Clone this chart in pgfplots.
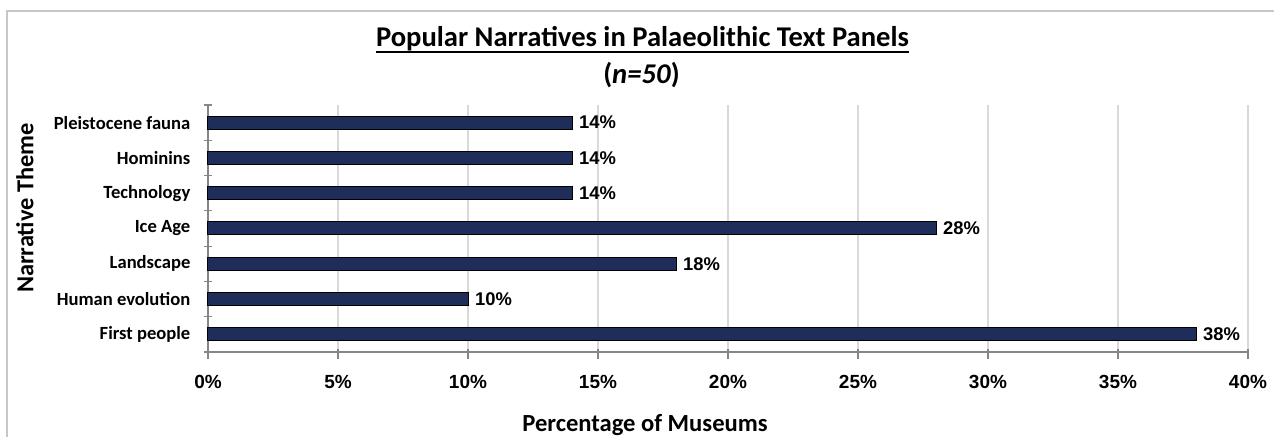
\documentclass[border=0pt]{standalone}
\usepackage{fontspec}
\usepackage{pgfplots}
\pgfplotsset{compat=1.18}
\setmainfont{Carlito}
\newfontfamily\arialfont{Liberation Sans}
\definecolor{barnavy}{RGB}{31,45,90}
\definecolor{axgray}{RGB}{134,134,134}
\definecolor{gridgray}{RGB}{217,217,217}
\definecolor{framegray}{RGB}{200,200,200}
\begin{document}
\begin{tikzpicture}
\useasboundingbox (0,0) rectangle (637pt,218.5pt);
\fill[white] (0,0) rectangle (637pt,218.5pt);
\draw[framegray, line width=0.8pt] (3.5pt,0) -- (3.5pt,213pt) -- (637pt,213pt);
\begin{axis}[
  at={(104pt,42.5pt)}, anchor=south west,
  scale only axis, width=520pt, height=123.5pt,
  xbar, bar width=6.5pt,
  xmin=0, xmax=40, ymin=-0.5, ymax=6.5,
  axis x line*=bottom, axis y line*=left,
  axis line style={axgray, line width=0.6pt},
  xtick={0,5,...,40},
  xticklabels={0\%,5\%,10\%,15\%,20\%,25\%,30\%,35\%,40\%},
  ytick={0,...,6},
  yticklabels={First people,Human evolution,Landscape,Ice Age,Technology,Hominins,Pleistocene fauna},
  minor ytick={-0.5,0.5,...,6.5},
  tick align=center,
  major tick length=5pt,
  minor tick length=4pt,
  x tick style={draw=axgray, line width=0.6pt, yshift=-1.25pt},
  y tick style={draw=axgray, line width=0.6pt},
  every major y tick/.style={opacity=0},
  xmajorgrids, major grid style={gridgray, line width=0.6pt, opacity=1},
  xticklabel style={font=\arialfont\bfseries\fontsize{9.5}{11}\selectfont, yshift=-5.8pt},
  yticklabel style={font=\bfseries\fontsize{9.3}{11}\selectfont, xshift=-2.8pt},
  nodes near coords={\pgfmathprintnumber[assume math mode=true]{\pgfplotspointmeta}\%},
  nodes near coords style={font=\arialfont\bfseries\fontsize{9.2}{11}\selectfont, black},
  clip=false,
]
\addplot[fill=barnavy, draw=black, line width=0.5pt] coordinates {
(38,0) (10,1) (18,2) (28,3) (14,4) (14,5) (14,6)
};
\end{axis}
\node[anchor=base, inner sep=0pt, font=\bfseries\fontsize{14.3}{16}\selectfont] (title) at (321.25pt,195.15pt) {Popular Narratives in Palaeolithic Text Panels};
\draw[black, line width=1pt] ([yshift=-2.5pt]title.base west) -- ([yshift=-2.5pt]title.base east);
\node[anchor=base, inner sep=0pt, font=\bfseries\fontsize{14.3}{16}\selectfont] at (320.75pt,176.85pt) {(\textit{n=50})};
\node[anchor=base, font=\bfseries\fontsize{12.3}{14}\selectfont] at (322.5pt,2.7pt) {Percentage of Museums};
\node[rotate=90, font=\bfseries\fontsize{12.2}{14}\selectfont] at (12.5pt,114.5pt) {Narrative Theme};
\end{tikzpicture}
\end{document}
